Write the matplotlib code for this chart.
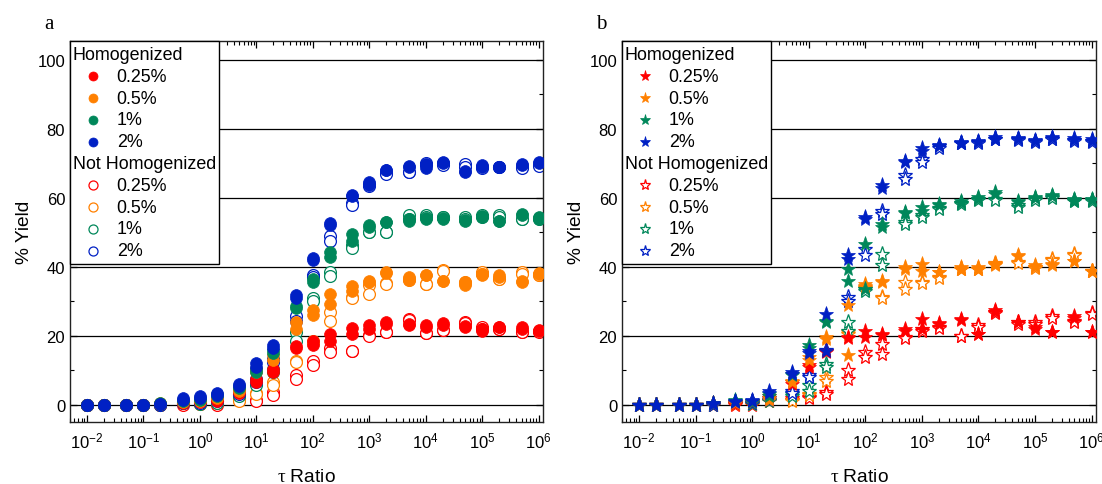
import numpy as np
import matplotlib
matplotlib.use("Agg")
import matplotlib.pyplot as plt
from matplotlib.ticker import LogLocator, MultipleLocator, NullFormatter
from matplotlib.lines import Line2D
from matplotlib.offsetbox import AnchoredOffsetbox, VPacker, HPacker, TextArea, DrawingArea

plt.rcParams['font.family'] = ['Liberation Sans', 'DejaVu Sans']
plt.rcParams['mathtext.fontset'] = 'custom'
plt.rcParams['mathtext.rm'] = 'Liberation Sans'
plt.rcParams['mathtext.it'] = 'Liberation Serif'

# tau ratio values (same for every series)
tau = [0.01, 0.02, 0.05, 0.1, 0.2, 0.5, 1, 2, 5, 10, 20, 50, 100, 200, 500,
       1e3, 2e3, 5e3, 1e4, 2e4, 5e4, 1e5, 2e5, 5e5, 1e6]

labels = ["0.25%", "0.5%", "1%", "2%"]
colors = ["#ff0000", "#ff8000", "#00875a", "#0020c4"]

# ---- panel a: homogenized (filled), two replicates each
a_hom_r1 = [
    [0, 0, 0, 0, 0.3, 1.0, 1.0, 1.5, 4.5, 7.5, 10.5, 17, 18.5, 20.5, 22.3, 23.2, 24, 23.5, 23, 23.7, 22.7, 22, 22.5, 22.5, 21.7],
    [0, 0, 0, 0, 0.5, 1.2, 1.5, 2.5, 5, 10.5, 14.5, 24, 27.5, 32, 34.5, 36, 38.6, 37, 37.7, 36, 34.8, 38, 37.5, 35.8, 38.2],
    [0, 0, 0, 0, 0.4, 1.5, 2, 3, 5.5, 10.5, 16, 28.7, 36.5, 44.3, 49.6, 52, 53.1, 54, 54.2, 54.1, 53.6, 54.7, 53.4, 55.4, 54.5],
    [0, 0, 0, 0, 0.3, 2, 2.5, 3.3, 6.1, 12, 17.4, 31.7, 42.5, 52.6, 60.9, 64.6, 68.2, 69.2, 69.9, 70.3, 67.9, 69.4, 69, 69.9, 70.3],
]
a_hom_r2 = [
    [0, 0, 0, 0, 0.2, 0.5, 0.8, 1.0, 3.5, 6.5, 9.5, 16.5, 17.2, 18.6, 20.6, 22, 23.5, 23, 22.5, 23, 22.5, 21.5, 22.5, 22, 21.5],
    [0, 0, 0, 0, 0.3, 0.8, 1.2, 2.0, 4, 9.5, 13, 22, 26, 29.3, 33, 35.5, 38.3, 36.3, 37.7, 36, 35.5, 37.5, 37, 35.5, 37.8],
    [0, 0, 0, 0, 0.3, 1, 1.5, 2.5, 5, 9.5, 15, 28, 35.5, 42.9, 47.6, 51.5, 53, 53.4, 54, 54, 53.2, 54.5, 53.4, 55, 54],
    [0, 0, 0, 0, 0.2, 1.5, 2, 2.8, 5.5, 11, 16.5, 31, 42, 52, 60.5, 63.6, 68, 69, 68.6, 70, 67.5, 69, 69, 69.5, 70],
]
# ---- panel a: not homogenized (open)
a_not_r1 = [
    [0, 0, 0, 0, 0, 0.5, 0.8, 1.0, 2.8, 1.3, 3.8, 8.5, 12.8, 16.5, 15.7, 20.3, 21, 24.9, 20.9, 21.7, 24.1, 22.5, 22, 21, 21.5],
    [0, 0, 0, 0, 0.3, 0.8, 0.5, 1.0, 1.5, 3.5, 6.7, 12.8, 18.6, 27, 31.2, 34.6, 35.3, 36.5, 35, 39.2, 35.5, 38.5, 36.5, 38.5, 37.5],
    [0, 0, 0, 0, 0.3, 0.8, 0.5, 1, 3, 6.5, 10.5, 21, 31, 38.6, 46.2, 50.2, 50.2, 55, 55, 54.5, 54.5, 55, 55, 54, 54.2],
    [0, 0, 0, 0, 0.3, 1, 1, 1.5, 3.7, 7.5, 13.3, 25.8, 37.5, 49, 58.4, 64, 67.2, 67.6, 70, 70, 69.9, 69, 69, 69, 69.5],
]
a_not_r2 = [
    [0, 0, 0, 0, 0, 0, 0.3, 0, 2, 1, 2.8, 7.5, 11.4, 15.3, 15.7, 20, 21, 24.5, 20.9, 21.7, 23.7, 22, 22, 21, 21.2],
    [0, 0, 0, 0, 0, 0.5, 0.3, 0.5, 1.2, 3, 5.6, 12.5, 18, 24.4, 31, 32.2, 35, 36.2, 35, 38.8, 35.3, 38, 36.5, 38, 37.5],
    [0, 0, 0, 0, 0, 0.5, 0.3, 0.5, 2.5, 5.6, 9.5, 18.6, 30, 37.3, 45.5, 50, 50, 54, 54.4, 54.5, 54, 54.5, 54.5, 54, 53.8],
    [0, 0, 0, 0, 0, 0.5, 0.5, 1, 3, 6.7, 12.5, 24.4, 37, 47.6, 57.8, 63.5, 67, 67.5, 69.5, 69.5, 69, 68.8, 69, 68.8, 69.3],
]

# ---- panel b: homogenized (filled stars)
b_hom_r1 = [
    [0, 0, 0, 0, 0.5, 0.5, 1, 2.5, 6.5, 11.6, 15.7, 19.6, 21.5, 20.6, 22, 24.9, 23.8, 24.9, 20.6, 27.6, 24, 22, 21, 25.7, 21.2],
    [0, 0, 0, 0, 0.5, 0.8, 1, 2, 7, 13.9, 19.6, 28.8, 35, 36, 39.9, 40.9, 38.5, 39.9, 39.9, 40.9, 43.5, 40.4, 40.9, 41.8, 38.9],
    [0, 0, 0, 0, 0.5, 1.5, 1, 3, 9, 17.2, 24.2, 39.4, 46.7, 52.5, 56, 57.4, 58.3, 59, 60.2, 61.6, 59.2, 60.2, 60.7, 59.7, 59.7],
    [0, 0, 0, 0, 0.5, 1, 1.5, 3.9, 9.6, 15.7, 26.4, 43.3, 54.6, 63.6, 70.8, 74.4, 75.4, 76.3, 76.6, 77.6, 77.3, 76.8, 77.6, 77.3, 77.1],
]
b_hom_r2 = [
    [0, 0, 0, 0, 0.3, 0.3, 0.8, 2, 6, 11, 15.2, 19.4, 19.6, 20.2, 21.5, 22, 23.3, 24.5, 20.6, 27, 24, 22.5, 21, 25.2, 21.2],
    [0, 0, 0, 0, 0.3, 0.5, 0.8, 1.5, 6.5, 13, 19.2, 14.3, 34.5, 35.6, 39.5, 38.9, 38.5, 39.5, 39.5, 40.5, 43, 40, 40.5, 41.8, 38.9],
    [0, 0, 0, 0, 0.3, 1.2, 0.8, 2.5, 8.5, 16.5, 24, 36, 33.6, 51.5, 55.5, 56.3, 58, 58.5, 59.8, 61, 58.7, 60, 60.5, 59.2, 59.5],
    [0, 0, 0, 0, 0.3, 0.8, 1.2, 3.3, 9, 15, 15.7, 42.3, 54, 63, 70.3, 73.5, 75, 76, 76.3, 77.2, 77, 76.5, 77.3, 76.8, 76.6],
]
# ---- panel b: not homogenized (open stars)
b_not_r1 = [
    [0, 0, 0, 0, 0, 0.3, 0.3, 1.5, 2, 2.2, 3.8, 10, 15.3, 17.7, 19.6, 22, 22.6, 20, 23, 27, 24, 23.9, 25.7, 24.4, 26.7],
    [0, 0, 0, 0, 0.3, 0.5, 0.5, 1.5, 1.5, 3.2, 8, 21, 34.2, 31.2, 35.6, 35.6, 37, 39.5, 39.5, 41, 41.3, 40, 42.3, 43.8, 38.9],
    [0, 0, 0, 0, 0.3, 0.8, 0.5, 1.5, 3, 5.6, 11.9, 24, 33.6, 43.8, 53, 54.9, 57, 58.5, 59.8, 59.7, 57.8, 59.8, 60.3, 59.5, 59.5],
    [0, 0, 0, 0, 0.3, 0.8, 1, 2, 4, 8.5, 16, 31.3, 45.2, 56.3, 66.5, 71.3, 75, 76, 76.3, 77.2, 77, 76.5, 77.2, 76.8, 76.6],
]
b_not_r2 = [
    [0, 0, 0, 0, 0, 0, 0, 1, 1.5, 2, 3.2, 7.5, 13.9, 14.8, 19.4, 21.5, 22.3, 20, 22.6, 26.5, 23.5, 23.5, 25.2, 24, 26.3],
    [0, 0, 0, 0, 0, 0.3, 0.3, 1, 1, 2.8, 7, 20.5, 33.8, 31, 33.6, 35.3, 36.8, 39.3, 39.3, 40.7, 41, 39.8, 42, 43.3, 38.9],
    [0, 0, 0, 0, 0, 0.5, 0.3, 1, 2.5, 4.1, 11, 21.5, 33, 40.4, 52.5, 54.5, 56.8, 58.2, 59.5, 59.5, 57.5, 59.5, 60, 59.2, 59.2],
    [0, 0, 0, 0, 0, 0.5, 0.5, 1.5, 3.5, 8, 15.5, 30.2, 43.3, 55.4, 65.5, 70.4, 74.5, 75.8, 76, 77, 76.8, 76.3, 77, 76.5, 76.3],
]

fig = plt.figure(figsize=(11.02, 4.85), dpi=100)
ax_a = fig.add_axes([70 / 1102, 62 / 485, 473 / 1102, 381 / 485])
ax_b = fig.add_axes([622 / 1102, 62 / 485, 474 / 1102, 381 / 485])

PX = 72 / 100  # points per pixel at dpi 100
LEG_FS = 12.9


def legend_row(text, marker=None, ms=7, color=None, filled=True):
    # one row of the legend, 22 px high
    if marker is None:
        da = DrawingArea(0.1, 21.8 * PX, 0, 0)
        return HPacker(children=[da, TextArea(text, textprops=dict(fontsize=LEG_FS))],
                       align='center', pad=0, sep=0)
    da = DrawingArea(40 * PX, 21.8 * PX, 0, 0)
    da.add_artist(Line2D([20 * PX], [10.9 * PX], linestyle='none', marker=marker, ms=ms,
                         mfc=color if filled else 'white', mec=color,
                         mew=0.5 if filled else 0.9))
    return HPacker(children=[da, TextArea(text, textprops=dict(fontsize=LEG_FS))],
                   align='center', pad=0, sep=4 * PX)


def draw_panel(ax, hom1, hom2, not1, not2, marker, ms, lms, letter):
    for yv in [0, 20, 40, 60, 80, 100]:
        ax.axhline(yv, color='k', lw=0.9, zorder=1)
    for i in range(4):
        for rep in (not1[i], not2[i]):
            ax.plot(tau, rep, linestyle='none', marker=marker, ms=ms,
                    mfc='white', mec=colors[i], mew=0.9, zorder=2)
        for rep in (hom1[i], hom2[i]):
            ax.plot(tau, rep, linestyle='none', marker=marker, ms=ms,
                    mfc=colors[i], mec=colors[i], mew=0.5, zorder=3)

    rows = [legend_row("Homogenized")]
    rows += [legend_row(labels[i], marker, lms, colors[i], True) for i in range(4)]
    rows += [legend_row("Not Homogenized")]
    rows += [legend_row(labels[i], marker, lms, colors[i], False) for i in range(4)]
    box = VPacker(children=rows, align='left', pad=0, sep=0)
    leg = AnchoredOffsetbox(loc='upper left', child=box, pad=0.15, borderpad=0,
                            frameon=True, prop=dict(size=LEG_FS))
    leg.patch.set_boxstyle('square', pad=0)
    leg.patch.set_edgecolor('k')
    leg.patch.set_linewidth(1.0)
    leg.set_zorder(5)
    ax.add_artist(leg)

    ax.set_xscale('log')
    ax.set_xlim(5.0e-3, 1.2e6)
    ax.set_ylim(-5, 105.5)
    ax.xaxis.set_major_locator(LogLocator(base=10, numticks=20))
    ax.xaxis.set_minor_locator(LogLocator(base=10, subs=np.arange(2, 10), numticks=20))
    ax.xaxis.set_minor_formatter(NullFormatter())
    ax.yaxis.set_major_locator(MultipleLocator(20))
    ax.yaxis.set_minor_locator(MultipleLocator(10))
    ax.tick_params(which='both', direction='in', top=True, right=True, labelsize=12)
    ax.tick_params(which='major', length=5, width=0.9)
    ax.tick_params(which='minor', length=3, width=0.8)
    ax.tick_params(axis='x', pad=6)
    for s in ax.spines.values():
        s.set_linewidth(1.0)
        s.set_color('#222222')
    ax.set_xlabel(r"$\tau$ Ratio", fontsize=13.8, labelpad=13)
    ax.set_ylabel("% Yield", fontsize=13.8, labelpad=3)
    ax.text(-0.044, 1.045, letter, transform=ax.transAxes, fontsize=15,
            family='Liberation Serif', ha='center', va='center')


draw_panel(ax_a, a_hom_r1, a_hom_r2, a_not_r1, a_not_r2, 'o', 8.5, 6.5, 'a')
draw_panel(ax_b, b_hom_r1, b_hom_r2, b_not_r1, b_not_r2, '*', 11, 8, 'b')

fig.savefig("out.png", dpi=100)
